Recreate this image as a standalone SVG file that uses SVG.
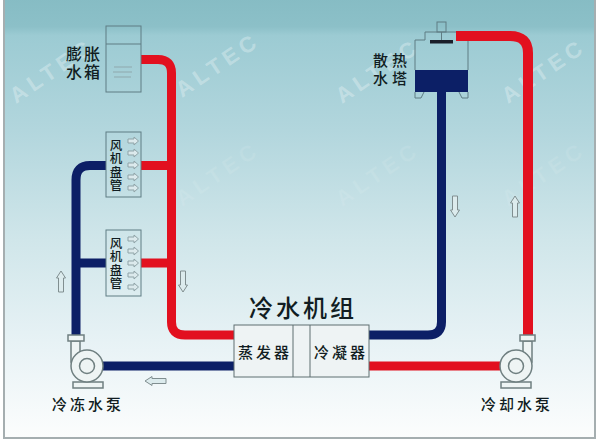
<svg xmlns="http://www.w3.org/2000/svg" width="600" height="442" viewBox="0 0 600 442">
<defs>
<linearGradient id="bg" x1="0" y1="0" x2="0" y2="1">
<stop offset="0" stop-color="#86bcc4"/><stop offset="0.065" stop-color="#8cc0c8"/><stop offset="0.085" stop-color="#9ccbd3"/><stop offset="0.3" stop-color="#b2d6dd"/><stop offset="0.55" stop-color="#d0e6ea"/><stop offset="0.8" stop-color="#e9f3f6"/><stop offset="1" stop-color="#fcfdfd"/>
</linearGradient>
<path id="ar" d="M-2.500 -10H2.500V4H4.500L0 11L-4.500 4H-2.500Z" fill="#dcebed" stroke="#808e90" stroke-width="1"/>
<path id="fa" d="M-5 -2H1V-4L5.500 0L1 4V2H-5Z" fill="#dbe9ec" stroke="#8fa3a7" stroke-width="1"/>
</defs>
<style>
.z{font-family:"Noto Sans CJK SC",sans-serif;fill:#111d22;font-weight:500}
.v{writing-mode:vertical-rl;font-size:12.500px;letter-spacing:.9px}
.b{fill:none;stroke:#5f7d83;stroke-width:1}
.p{fill:none;stroke-width:9}
.r{stroke:#e2101f}.n{stroke:#0c1f66}
.w{font-family:"Liberation Sans",sans-serif;font-weight:700;font-size:22px;fill:#fff;fill-opacity:.3;letter-spacing:5px}
.f{fill-opacity:.09}
.pm{fill:#eef4f4;stroke:#6f7f80;stroke-width:1.500}
</style>
<rect width="600" height="442" fill="#fff"/>
<rect x="4" y="-2" width="591" height="440" fill="url(#bg)" stroke="#a5aeb0" stroke-width="2"/>
<g id="watermarks">
<text class="w" transform="translate(16 104) rotate(-34)">ALTEC</text>
<text class="w" transform="translate(182 98) rotate(-34)">ALTEC</text>
<text class="w" transform="translate(342 104) rotate(-34)">ALTEC</text>
<text class="w" transform="translate(508 104) rotate(-34)">ALTEC</text>
<text class="w f" transform="translate(182 207) rotate(-34)">ALTEC</text>
<text class="w f" transform="translate(342 207) rotate(-34)">ALTEC</text>
<text class="w f" transform="translate(508 207) rotate(-34)">ALTEC</text>
</g>
<g id="connectors">
<path class="p r" d="M141 59.500H158Q171.500 59.500 171.500 73V322Q171.500 335 185 335H234"/>
<path class="p r" d="M141 165.500H171M141 263H171"/>
<path class="p n" d="M106 165.500H90Q76 165.500 76 180V336M106 263H76"/>
<path class="p n" d="M103 366H234"/>
<path class="p n" d="M369 335H428Q441.500 335 441.500 322V92"/>
<path class="p r" d="M369 366H500"/>
<path d="M456 36H510Q528 36 528 53V336" fill="none" stroke="#e2101f" stroke-width="10"/>
</g>
<g id="tank"><rect class="b" x="106" y="26" width="35" height="66"/><path class="b" d="M106 44H141"/><path d="M114 67H132M113 72H132M114 77H131" fill="none" stroke="#8fa8ad"/><text class="z" font-size="16" letter-spacing="2"><tspan x="66" y="60">膨胀</tspan><tspan x="66" y="78">水箱</tspan></text></g>
<g id="coil1"><rect class="b" x="106" y="132" width="35" height="65"/><use href="#fa" x="133" y="141"/><use href="#fa" x="133" y="153"/><use href="#fa" x="133" y="165"/><use href="#fa" x="133" y="177"/><use href="#fa" x="133" y="188"/><text class="z v" x="116" y="139">风机盘管</text></g>
<g id="coil2"><rect class="b" x="106" y="230" width="35" height="66"/><use href="#fa" x="133" y="239"/><use href="#fa" x="133" y="251"/><use href="#fa" x="133" y="263"/><use href="#fa" x="133" y="275"/><use href="#fa" x="133" y="287"/><text class="z v" x="116" y="237">风机盘管</text></g>
<g id="tower"><path class="b" d="M415 70V40H425V32H456M441.500 32V41M468 41V70"/><rect class="b" x="437" y="22" width="9" height="10"/><rect x="430" y="40" width="23" height="3.500" fill="#1a1f2a"/><rect x="415" y="70" width="53" height="22" fill="#0c1f66"/><path class="b" d="M415 92V98H421L424 92M468 92V98H462L459 92"/><text class="z" font-size="15" letter-spacing="4"><tspan x="373" y="66">散热</tspan><tspan x="373" y="84">水塔</tspan></text></g>
<g id="chiller"><rect x="234" y="325" width="135" height="52" fill="#eef3f4" stroke="#5f6f70"/><path d="M293 325V377M310 325V377" stroke="#5f6f70"/><text class="z" font-size="24" x="249" y="317" letter-spacing="3">冷水机组</text><text class="z" font-size="15" x="238" y="358" letter-spacing="3">蒸发器</text><text class="z" font-size="15" x="314" y="358" letter-spacing="3">冷凝器</text></g>
<g id="pump1"><rect class="pm" x="73" y="382" width="30" height="6"/><path class="pm" d="M71 341V362H80V341Z"/><rect class="pm" x="68" y="335" width="16" height="6"/><circle class="pm" cx="87" cy="366" r="16"/><circle class="pm" cx="87" cy="366" r="7.500"/><text class="z" font-size="15" x="52" y="410" letter-spacing="3">冷冻水泵</text></g>
<g id="pump2"><rect class="pm" x="501" y="382" width="30" height="6"/><path class="pm" d="M523 341V362H532V341Z"/><rect class="pm" x="520" y="335" width="15" height="6"/><circle class="pm" cx="516" cy="366" r="16"/><circle class="pm" cx="516" cy="366" r="7.500"/><text class="z" font-size="15" x="481" y="410" letter-spacing="3">冷却水泵</text></g>
<g id="flow-arrows"><use href="#ar" transform="translate(61 282) rotate(180)"/><use href="#ar" transform="translate(183 281)"/><use href="#ar" transform="translate(455 206)"/><use href="#ar" transform="translate(515 207) rotate(180)"/><use href="#ar" transform="translate(156 381) rotate(90)"/></g>
</svg>
